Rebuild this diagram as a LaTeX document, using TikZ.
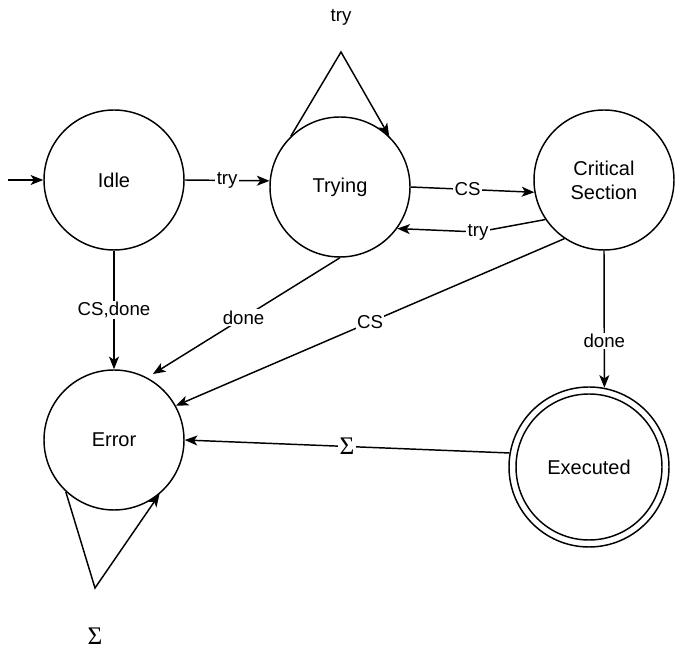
\documentclass[tikz,border=0pt]{standalone}
\usepackage{fontspec}
\setmainfont{Liberation Sans}
\newfontfamily\sigmafont{Liberation Serif}
\usetikzlibrary{arrows.meta}
\begin{document}
\begin{tikzpicture}[x=0.75pt,y=-0.75pt,
  state/.style={circle, draw, line width=1.1pt, minimum size=105pt, inner sep=0pt,
    font=\fontsize{15}{18}\selectfont, align=center},
  edge/.style={line width=1.1pt, -{Stealth[length=9.5pt,width=7.5pt,inset=2.5pt]}},
  lbl/.style={fill=white, inner sep=1pt, font=\fontsize{14}{16}\selectfont},
  sig/.style={fill=white, inner sep=1pt, font=\sigmafont\fontsize{19}{21}\selectfont}
]
\useasboundingbox (0,0) rectangle (693,655);

% states
\node[state] (idle) at (114,180) {Idle};
\node[state] (trying) at (340,187) {Trying};
\node[state] (cs) at (604,180) {Critical\\Section};
\node[state] (error) at (114,440) {Error};
\node[state, minimum size=120pt] (executed) at (589,467) {Executed};
\node[circle, draw, line width=1.1pt, minimum size=109.5pt, inner sep=0pt] (executedinner) at (executed) {};

% helper points for the initial arrow, the self loops and the bent return edge
\coordinate (init) at (8,180);
\coordinate (tryapex) at (341,52);
\coordinate (errapex) at (95,588);
\coordinate (backbend) at (478,232);

% transitions
\draw[edge] (init) -- (idle.west);
\draw[edge] (idle.east) -- node[lbl]{try} (trying.175);
\draw[edge] (trying.134) -- (tryapex) node[lbl, yshift=26pt]{try} -- (trying.46);
\draw[edge] (trying.east) -- node[lbl, pos=0.46]{CS} (cs.190);
\draw[edge] (cs.214) -- (backbend) node[lbl]{try} -- (trying.-36);
\draw[edge] (idle.south) -- node[lbl]{CS,done} (error.north);
\draw[edge, shorten >=5pt] (trying.south) -- node[lbl]{done} (error.62);
\draw[edge] (cs.236) -- node[lbl]{CS} (error.29);
\draw[edge] (cs.south) -- node[lbl, pos=0.66]{done} (executed.79);
\draw[edge] (executed.170) -- node[sig]{Σ} (error.east);
\draw[edge] (error.-133) -- (errapex) node[sig, yshift=-36pt]{Σ} -- (error.-50);
\end{tikzpicture}
\end{document}
